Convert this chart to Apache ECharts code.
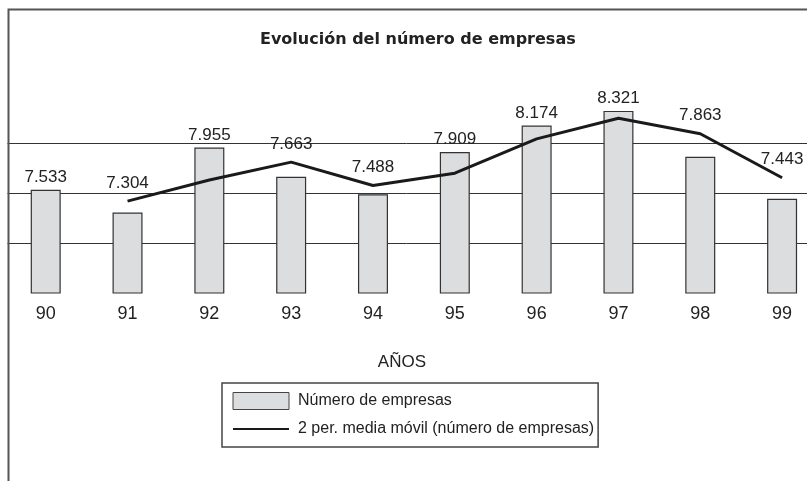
<!DOCTYPE html>
<html>
<head>
<meta charset="utf-8">
<script src="https://cdn.jsdelivr.net/npm/echarts@6/dist/echarts.min.js"></script>
<style>
  html, body { margin: 0; padding: 0; background: #fff; }
  #chart { width: 807px; height: 481px; }
</style>
</head>
<body>
<div id="chart"></div>
<script>
// valores
const years = ['90', '91', '92', '93', '94', '95', '96', '97', '98', '99'];
const empresas = [7533, 7304, 7955, 7663, 7488, 7909, 8174, 8321, 7863, 7443];
const mediaMovil = [null, 7418.5, 7629.5, 7809, 7575.5, 7698.5, 8041.5, 8247.5, 8092, 7653];
const yTicks = [6500, 7000, 7500, 8000, 8500];

const SANS = "'Liberation Sans', Arial, sans-serif";

// 7533 -> "7.533"
const fmt = (v) => String(v).replace(/\B(?=(\d{3})+(?!\d))/g, '.');

// la etiqueta va encima de la marca más alta (barra o línea)
const lineHigher = empresas.map((v, i) => mediaMovil[i] != null && mediaMovil[i] > v);

const chartDom = document.getElementById('chart');
const myChart = echarts.init(chartDom);

const option = {
    animation: false,
    title: {
        text: 'Evolución del número de empresas',
        left: 255,
        top: 27,
        textStyle: {
            fontFamily: "'DejaVu Sans', sans-serif",
            fontWeight: 'bold',
            fontSize: 16,
            color: '#222',
        },
    },
    legend: {
        orient: 'vertical',
        left: 222,
        top: 383,
        padding: [9, 4, 10, 10],
        itemWidth: 56,
        itemHeight: 17,
        itemGap: 11,
        borderColor: '#444',
        borderWidth: 1.5,
        textStyle: { fontFamily: SANS, fontSize: 16, color: '#222', padding: [0, 0, 0, 4] },
        data: [
            { name: 'Número de empresas', icon: 'rect', itemStyle: { borderColor: '#444', borderWidth: 1 } },
            { name: '2 per. media móvil (número de empresas)' },
        ],
    },
    // la rejilla se sale por la derecha, como en el original
    grid: { left: 4.8, width: 818.2, top: 93, bottom: 188, outerBoundsMode: 'none', containLabel: false },
    xAxis: {
        type: 'category',
        data: years,
        axisLine: { show: false },
        axisTick: { show: false },
        axisLabel: { fontFamily: SANS, fontSize: 18, color: '#222', margin: 12 },
        name: 'AÑOS',
        nameLocation: 'middle',
        nameGap: 61,
        nameTextStyle: { fontFamily: SANS, fontSize: 17, color: '#222', padding: [0, 24, 0, 0] },
    },
    yAxis: {
        type: 'value',
        min: yTicks[0],
        max: yTicks[yTicks.length - 1],
        interval: 500,
        axisLine: { show: false },
        axisTick: { show: false },
        axisLabel: { show: false },
        splitLine: {
            show: true,
            showMinLine: false,
            showMaxLine: false,
            lineStyle: { color: '#333', width: 1 },
        },
    },
    series: [
        {
            name: 'Número de empresas',
            type: 'bar',
            barWidth: 30,
            itemStyle: { color: '#dcdddf', borderColor: '#333', borderWidth: 1.2 },
            label: {
                position: 'top',
                distance: 4,
                fontFamily: SANS,
                fontSize: 17,
                color: '#222',
                formatter: (p) => fmt(p.value),
            },
            data: empresas.map((v, i) => ({ value: v, label: { show: !lineHigher[i] } })),
        },
        {
            name: '2 per. media móvil (número de empresas)',
            type: 'line',
            symbol: 'circle',
            symbolSize: 1,
            itemStyle: { color: 'transparent' },
            lineStyle: { color: '#1a1a1a', width: 3 },
            label: {
                position: 'top',
                distance: 9,
                fontFamily: SANS,
                fontSize: 17,
                color: '#222',
                formatter: (p) => fmt(empresas[p.dataIndex]),
            },
            data: mediaMovil.map((v, i) => ({ value: v, label: { show: lineHigher[i] } })),
            z: 3,
        },
    ],
    graphic: [
        { type: 'rect', z: 100, shape: { x: 0, y: 0, width: 7.5, height: 481 }, style: { fill: '#fff' } },
        { type: 'rect', z: 101, shape: { x: 8.5, y: 9.5, width: 900, height: 600 }, style: { fill: 'none', stroke: '#555', lineWidth: 2 } },
    ],
};

myChart.setOption(option);
</script>
</body>
</html>
